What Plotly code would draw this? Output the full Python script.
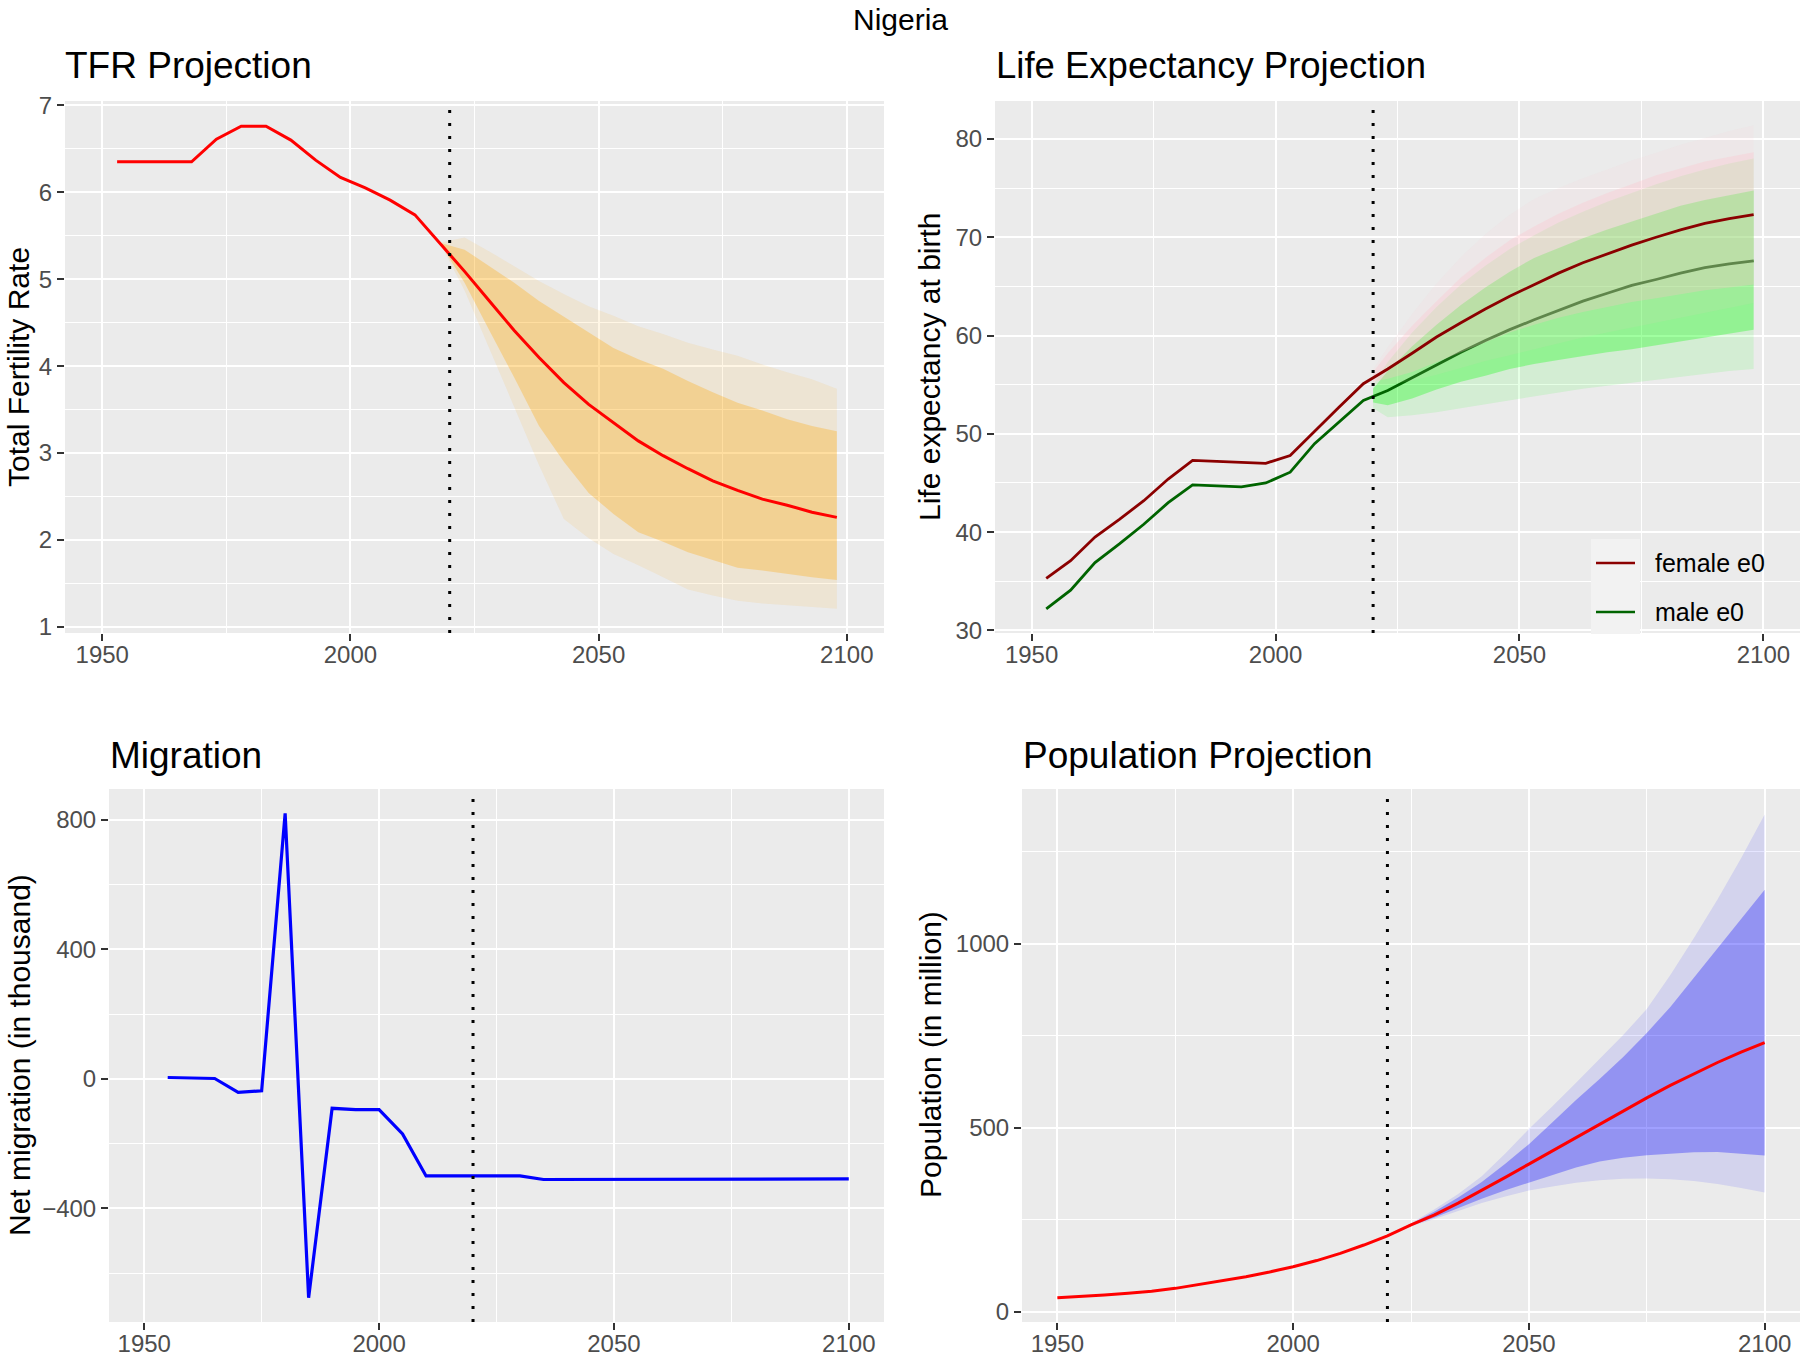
import plotly.graph_objects as go

W, H = 1800, 1356

# ---------------- data ----------------
# TFR (5-year period midpoints)
tfr_obs_years = [1953, 1958, 1963, 1968, 1973, 1978, 1983, 1988, 1993, 1998, 2003, 2008, 2013, 2018]
tfr_obs = [6.35, 6.35, 6.35, 6.35, 6.61, 6.76, 6.76, 6.60, 6.37, 6.17, 6.05, 5.91, 5.74, 5.42]
tfr_proj_years = [2023, 2028, 2033, 2038, 2043, 2048, 2053, 2058, 2063, 2068, 2073, 2078, 2083, 2088, 2093, 2098]
tfr_median = [5.09, 4.75, 4.41, 4.10, 3.81, 3.56, 3.35, 3.14, 2.97, 2.82, 2.68, 2.57, 2.47, 2.40, 2.32, 2.26]
tfr_lo80 = [4.96, 4.41, 3.87, 3.31, 2.90, 2.54, 2.30, 2.09, 1.98, 1.86, 1.77, 1.68, 1.65, 1.61, 1.57, 1.54]
tfr_hi80 = [5.34, 5.15, 4.96, 4.75, 4.56, 4.39, 4.21, 4.08, 3.97, 3.83, 3.70, 3.58, 3.49, 3.39, 3.31, 3.25]
tfr_lo95 = [4.87, 4.20, 3.54, 2.86, 2.24, 2.02, 1.84, 1.71, 1.57, 1.43, 1.36, 1.30, 1.27, 1.25, 1.23, 1.21]
tfr_hi95 = [5.48, 5.32, 5.15, 4.98, 4.83, 4.69, 4.58, 4.46, 4.37, 4.27, 4.19, 4.12, 4.02, 3.93, 3.85, 3.74]

# Life expectancy
le_obs_years = [1953, 1958, 1963, 1968, 1973, 1978, 1983, 1988, 1993, 1998, 2003, 2008, 2013, 2018]
le_f_obs = [35.3, 37.1, 39.5, 41.3, 43.2, 45.4, 47.3, 47.2, 47.1, 47.0, 47.8, 50.3, 52.7, 55.1]
le_m_obs = [32.2, 34.1, 36.9, 38.8, 40.8, 43.0, 44.8, 44.7, 44.6, 45.0, 46.1, 49.0, 51.2, 53.4]
le_proj_years = [2023, 2028, 2033, 2038, 2043, 2048, 2053, 2058, 2063, 2068, 2073, 2078, 2083, 2088, 2093, 2098]
le_f_med = [56.6, 58.2, 59.85, 61.3, 62.7, 64.0, 65.2, 66.35, 67.4, 68.3, 69.2, 70.0, 70.75, 71.4, 71.9, 72.3]
le_m_med = [54.4, 55.7, 57.0, 58.3, 59.5, 60.6, 61.6, 62.55, 63.5, 64.3, 65.1, 65.7, 66.35, 66.9, 67.3, 67.6]
le_band_years = [2020, 2023, 2028, 2033, 2038, 2043, 2048, 2053, 2058, 2063, 2068, 2073, 2078, 2083, 2088, 2093, 2098]
le_f_hi95 = [56.6, 58.8, 62.2, 65.3, 68.0, 70.3, 72.3, 73.9, 75.0, 76.0, 76.9, 77.8, 78.6, 79.4, 80.1, 80.8, 81.4]
le_f_hi80 = [56.3, 58.2, 61.0, 63.5, 65.9, 67.9, 69.7, 71.1, 72.4, 73.5, 74.5, 75.4, 76.3, 77.0, 77.7, 78.2, 78.65]
le_f_lo80 = [55.3, 55.6, 56.3, 57.3, 58.3, 59.3, 60.3, 61.1, 61.8, 62.4, 62.9, 63.4, 63.8, 64.2, 64.6, 64.9, 65.2]
le_f_lo95 = [55.0, 55.0, 55.4, 56.0, 56.7, 57.4, 58.0, 58.6, 59.2, 59.8, 60.3, 60.8, 61.3, 61.8, 62.3, 62.8, 63.3]
le_m_hi95 = [55.0, 57.3, 60.3, 62.9, 65.2, 67.1, 68.8, 70.2, 71.5, 72.6, 73.6, 74.5, 75.4, 76.2, 76.9, 77.5, 78.0]
le_m_hi80 = [54.6, 56.4, 58.9, 61.1, 63.1, 64.9, 66.5, 67.9, 68.9, 69.9, 70.8, 71.6, 72.4, 73.2, 73.8, 74.3, 74.75]
le_m_lo80 = [53.2, 52.9, 53.6, 54.5, 55.3, 55.9, 56.6, 57.1, 57.5, 57.9, 58.3, 58.6, 59.0, 59.4, 59.8, 60.2, 60.6]
le_m_lo95 = [52.6, 51.7, 51.9, 52.2, 52.6, 53.0, 53.4, 53.8, 54.2, 54.6, 54.9, 55.2, 55.5, 55.8, 56.1, 56.4, 56.6]

# Migration (thousand)
mig_years = list(range(1955, 2101, 5))
mig_values = [4, 3, 1, -42, -37, 820, -676, -91, -95, -95, -170, -300, -300, -300, -300, -300,
              -311, -311, -310, -309, -309, -309, -309, -309, -309, -309, -309, -309, -309, -309]

# Population (million)
pop_years = list(range(1950, 2101, 5))
pop_median = [37.9, 41.1, 45.1, 50.1, 55.6, 63.4, 73.4, 83.6, 95.2, 107.9, 122.3, 138.9, 158.5, 181.1,
              206.1, 236, 263, 295, 329, 365, 401, 437, 473, 510, 546, 581, 615, 647, 677, 705, 731]
pop_band_years = list(range(2020, 2101, 5))
pop_lo95 = [206.1, 232, 252, 274, 295, 313, 329, 340, 350, 357, 361, 362, 360, 355, 347, 336, 324]
pop_lo80 = [206.1, 234, 256, 282, 307, 330, 351, 372, 392, 408, 418, 425, 430, 433, 434, 430, 424]
pop_hi80 = [206.1, 238, 272, 310, 352, 402, 455, 515, 575, 632, 692, 757, 828, 905, 985, 1066, 1146]
pop_hi95 = [206.1, 240, 278, 320, 368, 430, 496, 558, 622, 686, 752, 822, 915, 1015, 1120, 1232, 1351]

present_year = 2020
x_ticks = [1950, 2000, 2050, 2100]
x_minor = [1975, 2025, 2075]

# ---------------- helpers ----------------
FONT = "Liberation Sans, Arial, Helvetica, sans-serif"


def pxx(p):
    return p / W


def pxy(p):
    return 1 - p / H


def band(xs, lo, hi, color, xa, ya):
    return go.Scatter(x=list(xs) + list(xs)[::-1], y=list(lo) + list(hi)[::-1],
                      fill="toself", fillcolor=color, line=dict(width=0),
                      mode="lines", hoverinfo="skip", showlegend=False,
                      xaxis=xa, yaxis=ya)


def line(xs, ys, color, width, xa, ya):
    return go.Scatter(x=xs, y=ys, mode="lines", line=dict(color=color, width=width),
                      showlegend=False, xaxis=xa, yaxis=ya)


fig = go.Figure()

# TFR panel
tb_x = [tfr_obs_years[-1]] + tfr_proj_years
fig.add_trace(band(tb_x, [tfr_obs[-1]] + tfr_lo95, [tfr_obs[-1]] + tfr_hi95, "rgba(255,165,0,0.1)", "x", "y"))
fig.add_trace(band(tb_x, [tfr_obs[-1]] + tfr_lo80, [tfr_obs[-1]] + tfr_hi80, "rgba(255,165,0,0.3)", "x", "y"))
fig.add_trace(line(tfr_obs_years + tfr_proj_years, tfr_obs + tfr_median, "#FF0000", 3, "x", "y"))

# Life expectancy panel
fig.add_trace(band(le_band_years, le_m_lo95, le_m_hi95, "rgba(0,255,0,0.1)", "x2", "y2"))
fig.add_trace(band(le_band_years, le_m_lo80, le_m_hi80, "rgba(0,255,0,0.3)", "x2", "y2"))
fig.add_trace(line(le_obs_years + le_proj_years, le_m_obs + le_m_med, "#006400", 2.8, "x2", "y2"))
fig.add_trace(band(le_band_years, le_f_lo95, le_f_hi95, "rgba(255,192,203,0.1)", "x2", "y2"))
fig.add_trace(band(le_band_years, le_f_lo80, le_f_hi80, "rgba(255,192,203,0.3)", "x2", "y2"))
fig.add_trace(line(le_obs_years + le_proj_years, le_f_obs + le_f_med, "#8B0000", 2.8, "x2", "y2"))

# Migration panel
fig.add_trace(line(mig_years, mig_values, "#0000FF", 3.2, "x3", "y3"))

# Population panel
fig.add_trace(band(pop_band_years, pop_lo95, pop_hi95, "rgba(0,0,255,0.1)", "x4", "y4"))
fig.add_trace(band(pop_band_years, pop_lo80, pop_hi80, "rgba(0,0,255,0.3)", "x4", "y4"))
fig.add_trace(line(pop_years, pop_median, "#FF0000", 3, "x4", "y4"))

# ---------------- axes ----------------
common = dict(showgrid=True, gridcolor="white", gridwidth=2.4, zeroline=False, showline=False,
              ticks="outside", ticklen=7, tickwidth=2, tickcolor="#333333",
              tickfont=dict(family=FONT, size=24, color="#4D4D4D"), automargin=False)


def fmt(v):
    return str(v).replace("-", "\u2212")


def xaxis(dom, anchor):
    return dict(domain=dom, anchor=anchor, range=[1942.5, 2107.5], tickmode="array",
                tickvals=x_ticks, ticktext=[fmt(v) for v in x_ticks], ticklabelstandoff=-7,
                minor=dict(tickvals=x_minor, showgrid=True, gridcolor="white", gridwidth=1.2, ticks=""),
                **common)


def yaxis(dom, anchor, rng, major, minor):
    return dict(domain=dom, anchor=anchor, range=rng, tickmode="array", tickvals=major,
                ticktext=[fmt(v) for v in major],
                minor=dict(tickvals=minor, showgrid=True, gridcolor="white", gridwidth=1.2, ticks=""),
                **common)


top_dom = [pxy(633), pxy(101)]
bot_dom = [pxy(1322), pxy(789)]

fig.update_layout(
    xaxis=xaxis([pxx(65), pxx(884)], "y"),
    yaxis=yaxis(top_dom, "x", [0.93, 7.05], [1, 2, 3, 4, 5, 6, 7], [1.5, 2.5, 3.5, 4.5, 5.5, 6.5]),
    xaxis2=xaxis([pxx(995), 1.0], "y2"),
    yaxis2=yaxis(top_dom, "x2", [29.74, 83.86], [30, 40, 50, 60, 70, 80], [35, 45, 55, 65, 75]),
    xaxis3=xaxis([pxx(109), pxx(884)], "y3"),
    yaxis3=yaxis(bot_dom, "x3", [-751, 895], [-400, 0, 400, 800], [-600, -200, 200, 600]),
    xaxis4=xaxis([pxx(1022), 1.0], "y4"),
    yaxis4=yaxis(bot_dom, "x4", [-28, 1420], [0, 500, 1000], [250, 750, 1250]),
)

# ---------------- shapes ----------------
shapes = []
for xr, yr in [("x", "y"), ("x2", "y2"), ("x3", "y3"), ("x4", "y4")]:
    shapes.append(dict(type="line", xref=xr, yref=yr + " domain", x0=present_year, x1=present_year,
                       y0=0, y1=1, line=dict(color="black", width=3, dash="3px,10px"), layer="above"))

# legend (life expectancy panel)
shapes.append(dict(type="rect", xref="paper", yref="paper", x0=pxx(1591), x1=pxx(1640),
                   y0=pxy(634), y1=pxy(539), fillcolor="#F2F2F2", line=dict(width=0), layer="above"))
legend_items = [("female e0", "#8B0000", 563), ("male e0", "#006400", 612)]
for label, col, yy in legend_items:
    shapes.append(dict(type="line", xref="paper", yref="paper", x0=pxx(1596), x1=pxx(1635),
                       y0=pxy(yy), y1=pxy(yy), line=dict(color=col, width=2.6), layer="above"))

fig.update_layout(shapes=shapes)

# ---------------- annotations ----------------
ann = []


def text(t, x, y, size, xanchor="left", angle=0, color="black"):
    ann.append(dict(text=t, x=pxx(x), y=pxy(y), xref="paper", yref="paper", showarrow=False,
                    xanchor=xanchor, yanchor="middle", textangle=angle,
                    font=dict(family=FONT, size=size, color=color)))


text("Nigeria", 900, 19, 30, xanchor="center")
text("TFR Projection", 63, 66, 37)
text("Life Expectancy Projection", 994, 66, 36.5)
text("Migration", 108, 755, 37)
text("Population Projection", 1021, 755, 37)
text("Total Fertility Rate", 19, 367, 30, xanchor="center", angle=-90)
text("Life expectancy at birth", 930, 367, 30, xanchor="center", angle=-90)
text("Net migration (in thousand)", 19, 1055, 30, xanchor="center", angle=-90)
text("Population (in million)", 930, 1055, 30, xanchor="center", angle=-90)
for label, col, yy in legend_items:
    text(label, 1653, yy, 25)

fig.update_layout(annotations=ann)

fig.update_layout(width=W, height=H, margin=dict(l=0, r=0, t=0, b=0),
                  paper_bgcolor="white", plot_bgcolor="#EBEBEB", showlegend=False,
                  font=dict(family=FONT))

fig.write_html("out.html", config={"displayModeBar": False},
               post_script="document.body.style.margin='0';document.body.style.padding='0';"
                           "document.body.style.overflow='hidden';")
